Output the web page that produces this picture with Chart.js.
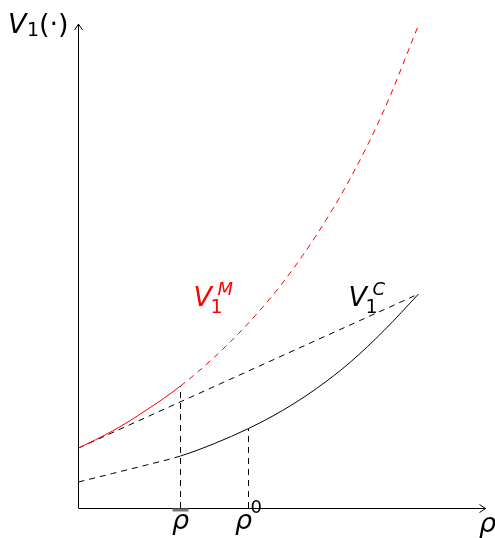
<!DOCTYPE html>
<html>
<head>
<meta charset="utf-8">
<script src="https://cdn.jsdelivr.net/npm/chart.js@4.4.0/dist/chart.umd.min.js"></script>
<style>
    html, body { margin: 0; padding: 0; background: #fff; }
</style>
</head>
<body>
<canvas id="chart" width="495" height="538"></canvas>
<script>
// values of rho along the x axis (one unit = 100px in the picture)
const rhoGrid = [0, 0.34, 0.68, 1.02, 1.36, 1.70, 2.04, 2.38, 2.72, 3.06, 3.40];
const valueMonopoly = [0.60, 0.77, 0.98, 1.22, 1.51, 1.85, 2.25, 2.73, 3.30, 3.99, 4.83];
const valueCompetitive = [0.26, 0.345, 0.43, 0.52, 0.645, 0.795, 0.975, 1.195, 1.46, 1.78, 2.14];

const rhoChord = [0, 3.40];
const valueChord = [0.60, 2.14];

const rhoBar = 1.02;   // underlined rho
const rho0 = 1.70;     // rho^0

const xMax = 4.07;
const yMax = 4.84;

function toPoints (xs, ys) {
    return xs.map((x, i) => ({ x: x, y: ys[i] }));
}

function valueAt (xs, ys, x) {
    return ys[xs.indexOf(x)];
}

const DASH = [6, 5];

const axesPlugin = {
    id: 'axes',
    afterDraw (chart) {
        const ctx = chart.ctx;
        const xs = chart.scales.x;
        const ys = chart.scales.y;
        const x0 = xs.getPixelForValue(0);
        const y0 = ys.getPixelForValue(0);
        const xEnd = xs.getPixelForValue(xMax);
        const yEnd = ys.getPixelForValue(yMax);

        ctx.save();
        ctx.strokeStyle = '#000';
        ctx.lineWidth = 1;
        ctx.setLineDash([]);
        ctx.beginPath();
        ctx.moveTo(x0, y0 + 0.5);
        ctx.lineTo(xEnd, y0 + 0.5);
        ctx.moveTo(x0, y0);
        ctx.lineTo(x0, yEnd);
        // arrow heads
        ctx.moveTo(xEnd - 6, y0 - 3.5);
        ctx.lineTo(xEnd, y0 + 0.5);
        ctx.lineTo(xEnd - 6, y0 + 4.5);
        ctx.moveTo(x0 - 4, yEnd + 6);
        ctx.lineTo(x0, yEnd);
        ctx.lineTo(x0 + 4, yEnd + 6);
        ctx.stroke();

        // bar under rho tick
        const bx = xs.getPixelForValue(rhoBar);
        ctx.strokeStyle = '#777';
        ctx.lineWidth = 3;
        ctx.beginPath();
        ctx.moveTo(bx - 8, y0 + 2);
        ctx.lineTo(bx + 8, y0 + 2);
        ctx.stroke();

        const ital = 'italic 27px "DejaVu Sans"';
        const norm = '27px "DejaVu Sans"';
        const sub = '19px "DejaVu Sans"';
        const sup = '18px "DejaVu Sans"';

        ctx.textBaseline = 'alphabetic';
        ctx.textAlign = 'left';

        // y axis title V_1(.)
        ctx.fillStyle = '#000';
        let tx = 8, ty = 33;
        ctx.font = ital; ctx.fillText('V', tx, ty); tx += 19;
        ctx.font = sub; ctx.fillText('1', tx, ty + 3); tx += 12;
        ctx.font = norm; ctx.fillText('(·)', tx, ty);

        // V_1^M
        ctx.fillStyle = '#ff0000';
        tx = xs.getPixelForValue(1.15); ty = ys.getPixelForValue(2.02);
        ctx.font = ital; ctx.fillText('V', tx, ty);
        ctx.font = sub; ctx.fillText('1', tx + 17, ty + 7);
        ctx.font = 'italic ' + sup; ctx.fillText('M', tx + 24, ty - 11);

        // V_1^C
        ctx.fillStyle = '#000';
        tx = xs.getPixelForValue(2.70); ty = ys.getPixelForValue(2.02);
        ctx.font = ital; ctx.fillText('V', tx, ty);
        ctx.font = sub; ctx.fillText('1', tx + 17, ty + 7);
        ctx.font = 'italic ' + sup; ctx.fillText('C', tx + 24, ty - 11);

        // x tick labels
        ctx.font = ital;
        ctx.textAlign = 'center';
        ctx.fillText('ρ', bx, y0 + 21);
        const px0 = xs.getPixelForValue(rho0);
        ctx.fillText('ρ', px0 - 5, y0 + 21);
        ctx.font = sup;
        ctx.textAlign = 'left';
        ctx.fillText('0', px0 + 2, y0 + 5);
        ctx.font = ital;
        ctx.textAlign = 'center';
        ctx.fillText('ρ', xEnd + 2, y0 + 24);
        ctx.restore();
    }
};

new Chart(document.getElementById('chart').getContext('2d'), {
    type: 'line',
    data: {
        datasets: [{
            data: toPoints(rhoGrid, valueMonopoly),
            borderColor: '#ff0000',
            borderWidth: 1,
            cubicInterpolationMode: 'monotone',
            segment: {
                borderDash: c => c.p0.parsed.x >= rhoBar ? DASH : undefined
            }
        }, {
            data: toPoints(rhoGrid, valueCompetitive),
            borderColor: '#000',
            borderWidth: 1,
            cubicInterpolationMode: 'monotone',
            segment: {
                borderDash: c => c.p0.parsed.x < rhoBar ? DASH : undefined
            }
        }, {
            data: toPoints(rhoChord, valueChord),
            borderColor: '#000',
            borderWidth: 1,
            borderDash: DASH
        }, {
            data: [{ x: rhoBar, y: 0 }, { x: rhoBar, y: valueAt(rhoGrid, valueMonopoly, rhoBar) }],
            borderColor: '#000',
            borderWidth: 1,
            borderDash: DASH
        }, {
            data: [{ x: rho0, y: 0 }, { x: rho0, y: valueAt(rhoGrid, valueCompetitive, rho0) }],
            borderColor: '#000',
            borderWidth: 1,
            borderDash: DASH
        }]
    },
    options: {
        responsive: false,
        animation: false,
        layout: {
            padding: { left: 78.5, right: 9.5, top: 24, bottom: 30 }
        },
        elements: {
            point: { radius: 0 }
        },
        plugins: {
            legend: { display: false },
            tooltip: { enabled: false }
        },
        scales: {
            x: { type: 'linear', min: 0, max: xMax, display: false },
            y: { min: 0, max: yMax, display: false }
        }
    },
    plugins: [axesPlugin]
});
</script>
</body>
</html>
